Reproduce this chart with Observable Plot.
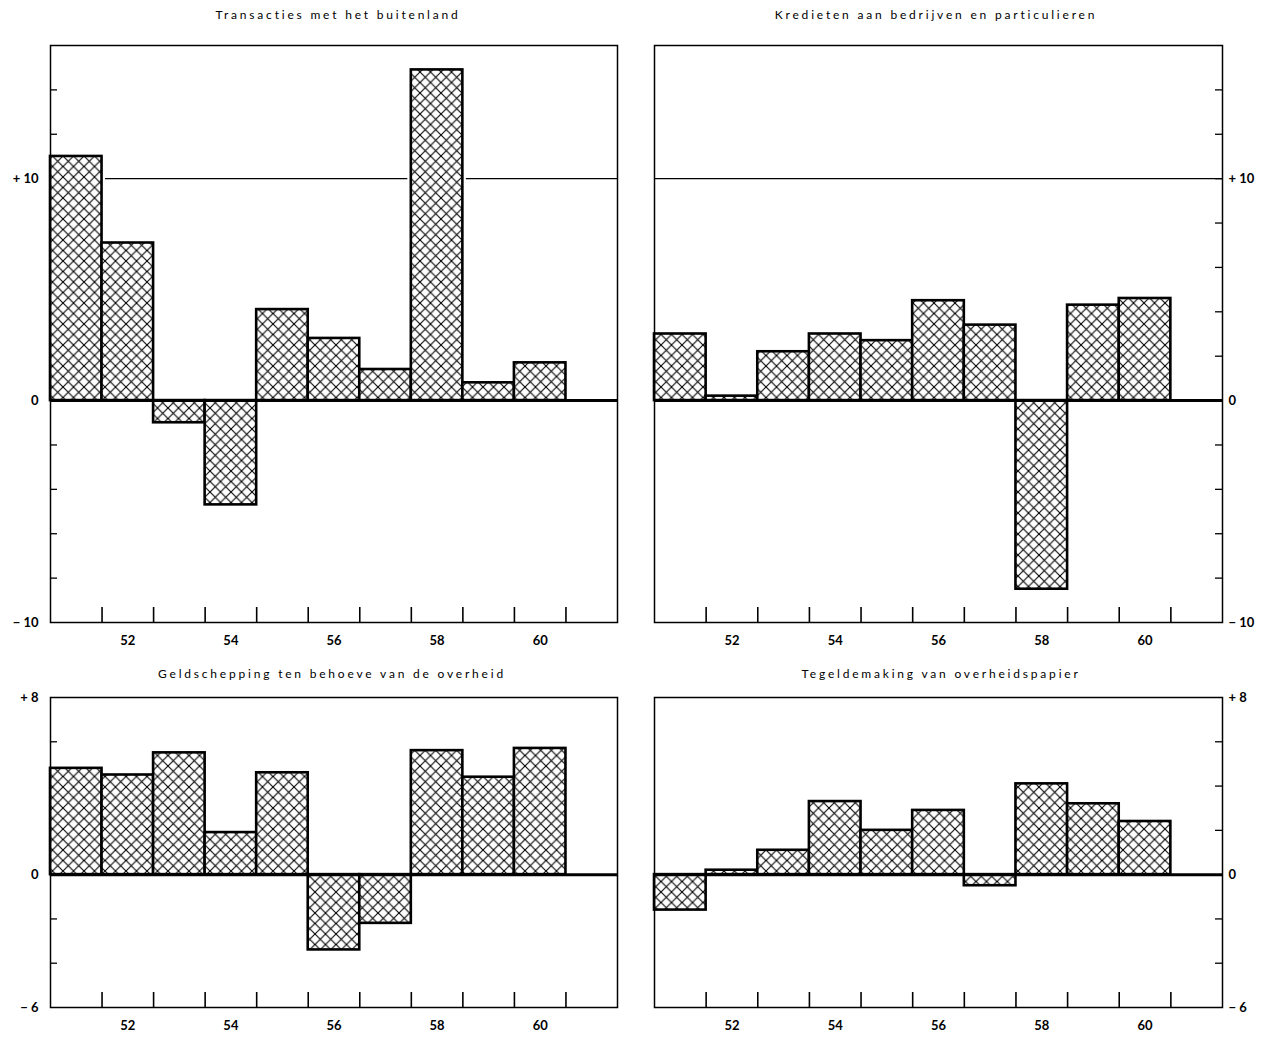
<!DOCTYPE html>
<html>
<head>
<meta charset="utf-8">
<script src="https://cdn.jsdelivr.net/npm/d3@7"></script>
<script src="https://cdn.jsdelivr.net/npm/@observablehq/plot@0.6"></script>
<style>
  html, body { margin: 0; padding: 0; background: white; }
  #page { position: relative; width: 1270px; height: 1040px; overflow: hidden; background: white; font-family: Lato, "DejaVu Sans", sans-serif; }
  .title { position: absolute; transform: translateX(-50%); white-space: nowrap; font-size: 12px; letter-spacing: 2.8px; line-height: 14px; color: black; }
  .panel { position: absolute; }
  .panel svg text { font-weight: bold; }
</style>
</head>
<body>
<div id="page"></div>
<script>
// ---- data ----
const years = [51, 52, 53, 54, 55, 56, 57, 58, 59, 60];
const transacties = [11.0, 7.1, -1.0, -4.7, 4.1, 2.8, 1.4, 14.9, 0.8, 1.7];
const kredieten = [3.0, 0.2, 2.2, 3.0, 2.7, 4.5, 3.4, -8.5, 4.3, 4.6];
const geldschepping = [4.8, 4.5, 5.5, 1.9, 4.6, -3.4, -2.2, 5.6, 4.4, 5.7];
const tegeldemaking = [-1.6, 0.2, 1.1, 3.3, 2.0, 2.9, -0.5, 4.1, 3.2, 2.4];
const xLabels = [52, 54, 56, 58, 60];
const titles = [
  "Transacties met het buitenland",
  "Kredieten aan bedrijven en particulieren",
  "Geldschepping ten behoeve van de overheid",
  "Tegeldemaking van overheidspapier"
];
const topDomain = [-10, 16];
const topTicks = [-8, -6, -4, -2, 2, 4, 6, 8, 10, 12, 14];
const topLabels = [-10, 0, 10];
const bottomDomain = [-6, 8];
const bottomTicks = [-4, -2, 2, 4, 6];
const bottomLabels = [-6, 0, 8];
const refValue = 10;

const page = document.getElementById("page");
const NS = "http://www.w3.org/2000/svg";

function fmt(d) {
  if (d === 0) return "0";
  if (d > 0) return "+ " + d;
  return "\u2212 " + (-d);
}

function panel(opts) {
  const {values, domain, ticks, labels, side, ref, left, top, width, height,
         marginLeft, marginRight, marginTop, marginBottom, id} = opts;
  const data = years.map((y, i) => ({year: y, value: values[i]}));
  const innerW = width - marginLeft - marginRight;
  const innerH = height - marginTop - marginBottom;
  const bounds = years.map(y => y + 0.5);
  const hatch = `url(#hatch-${id})`;
  const svg = Plot.plot({
    width, height, marginLeft, marginRight, marginTop, marginBottom,
    x: {domain: [years[0] - 0.5, years[years.length - 1] + 1.5], label: null},
    y: {domain, label: null},
    style: {fontFamily: "Lato, 'DejaVu Sans', sans-serif", fontSize: "14px", color: "black", background: "white", overflow: "visible"},
    marks: [
      ref != null ? Plot.ruleY([ref], {stroke: "black", strokeWidth: 1.1}) : null,
      Plot.ruleY(ticks, side === "left"
        ? {stroke: "black", strokeWidth: 1.3, insetRight: innerW - 7}
        : {stroke: "black", strokeWidth: 1.3, insetLeft: innerW - 7}),
      Plot.ruleX(bounds, {stroke: "black", strokeWidth: 1.6, insetTop: innerH - 15}),
      Plot.rectY(data, {x1: d => d.year - 0.5, x2: d => d.year + 0.5, y: "value", fill: "white", stroke: "white", strokeWidth: 7}),
      Plot.rectY(data, {x1: d => d.year - 0.5, x2: d => d.year + 0.5, y: "value", fill: hatch, stroke: "black", strokeWidth: 2.6}),
      Plot.ruleY([0], {stroke: "black", strokeWidth: 3}),
      Plot.frame({stroke: "black", strokeWidth: 1.5}),
      Plot.axisY(labels, {anchor: side, label: null, tickSize: 0, tickPadding: side === "left" ? 12 : 6, tickFormat: fmt, fontSize: 13}),
      Plot.axisX(xLabels, {anchor: "bottom", label: null, tickSize: 0, tickPadding: 13, tickFormat: d => String(d), fontSize: 13})
    ]
  });
  const defs = document.createElementNS(NS, "defs");
  const pat = document.createElementNS(NS, "pattern");
  pat.setAttribute("id", `hatch-${id}`);
  pat.setAttribute("patternUnits", "userSpaceOnUse");
  pat.setAttribute("width", 10.5);
  pat.setAttribute("height", 10.5);
  const bg = document.createElementNS(NS, "rect");
  bg.setAttribute("width", 10.5); bg.setAttribute("height", 10.5); bg.setAttribute("fill", "white");
  pat.appendChild(bg);
  const p = document.createElementNS(NS, "path");
  p.setAttribute("d", "M-1,-1L11.5,11.5M11.5,-1L-1,11.5");
  p.setAttribute("stroke", "black");
  p.setAttribute("stroke-width", 1.1);
  p.setAttribute("fill", "none");
  pat.appendChild(p);
  defs.appendChild(pat);
  svg.insertBefore(defs, svg.firstChild);
  const wrap = document.createElement("div");
  wrap.className = "panel";
  wrap.style.left = left + "px";
  wrap.style.top = top + "px";
  wrap.appendChild(svg);
  page.appendChild(wrap);
}

function title(text, cx, cy) {
  const d = document.createElement("div");
  d.className = "title";
  d.textContent = text;
  d.style.left = cx + "px";
  d.style.top = (cy - 7) + "px";
  page.appendChild(d);
}

const L = {width: 640, marginLeft: 50, marginRight: 23, side: "left"};
const R = {width: 630, marginLeft: 14, marginRight: 48, side: "right"};
const T = {top: 30, height: 627, marginTop: 15, marginBottom: 35, domain: topDomain, ticks: topTicks, labels: topLabels, ref: refValue};
const B = {top: 682, height: 358, marginTop: 15, marginBottom: 33, domain: bottomDomain, ticks: bottomTicks, labels: bottomLabels, ref: null};

panel({...L, ...T, left: 0, values: transacties, id: "tl"});
panel({...R, ...T, left: 640, values: kredieten, id: "tr"});
panel({...L, ...B, left: 0, values: geldschepping, id: "bl"});
panel({...R, ...B, left: 640, values: tegeldemaking, id: "br"});

title(titles[0], 338, 15);
title(titles[1], 936, 15);
title(titles[2], 332, 674);
title(titles[3], 941, 674);
</script>
</body>
</html>
